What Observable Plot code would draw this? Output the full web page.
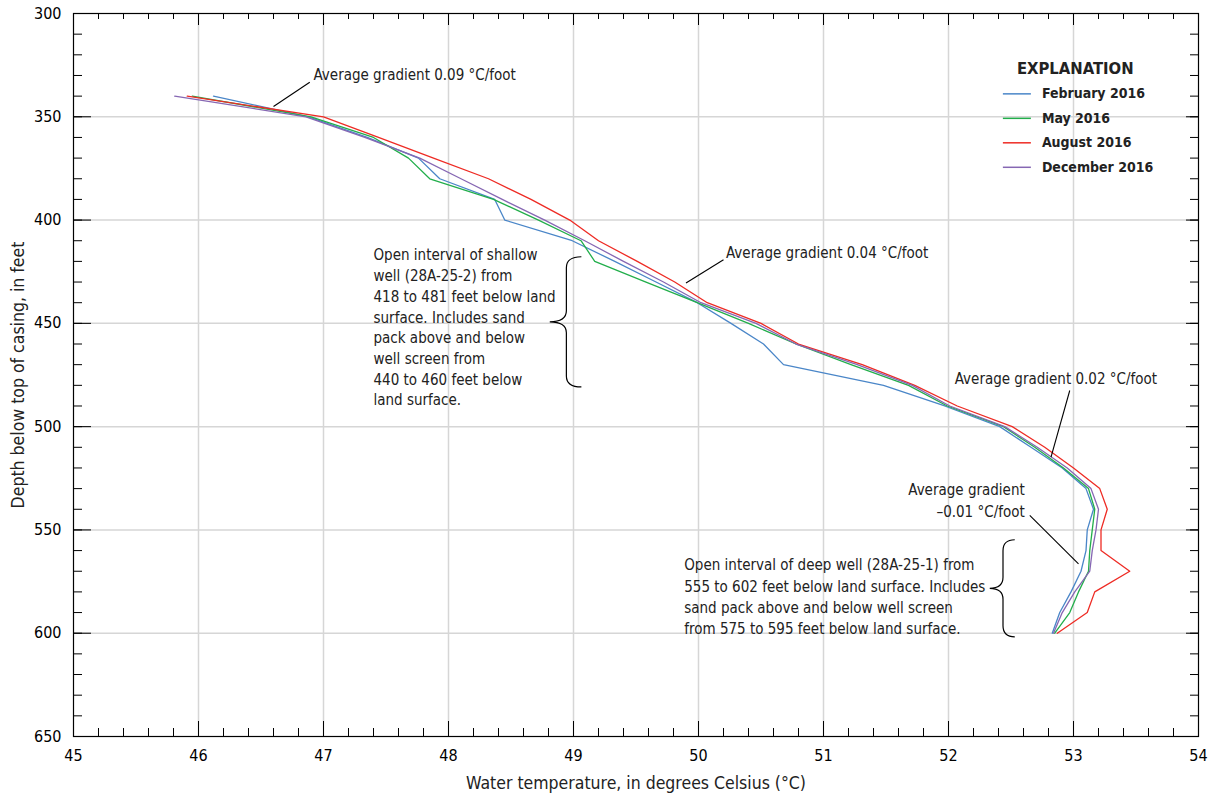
<!DOCTYPE html>
<html>
<head>
<meta charset="utf-8">
<script src="https://cdn.jsdelivr.net/npm/d3@7"></script>
<script src="https://cdn.jsdelivr.net/npm/@observablehq/plot@0.6"></script>
<style>
  html, body { margin: 0; padding: 0; background: #fff; overflow: hidden; }
</style>
</head>
<body>
<div id="chart"></div>
<script>
// ---------- Data ----------
const depths = [340, 350, 360, 370, 380, 390, 400, 410, 420, 430, 440, 450, 460, 470, 480,
                490, 500, 510, 520, 530, 540, 550, 560, 570, 580, 590, 600];

const february2016 = [46.12, 46.88, 47.35, 47.76, 47.93, 48.37, 48.45, 48.99, 49.33, 49.66, 49.99, 50.26, 50.52, 50.68, 51.48,
                      51.97, 52.41, 52.66, 52.91, 53.10, 53.16, 53.11, 53.10, 53.06, 52.98, 52.89, 52.83];
const may2016      = [45.95, 46.90, 47.40, 47.68, 47.85, 48.36, 48.72, 49.06, 49.17, 49.58, 49.99, 50.40, 50.78, 51.22, 51.68,
                      51.99, 52.44, 52.69, 52.92, 53.12, 53.17, 53.15, 53.13, 53.12, 53.04, 52.97, 52.85];
const august2016   = [45.91, 47.00, 47.44, 47.88, 48.32, 48.66, 48.97, 49.20, 49.51, 49.81, 50.07, 50.50, 50.80, 51.31, 51.73,
                      52.07, 52.51, 52.77, 53.00, 53.21, 53.27, 53.22, 53.22, 53.45, 53.17, 53.11, 52.87];
const december2016 = [45.81, 46.86, 47.33, 47.77, 48.10, 48.43, 48.77, 49.09, 49.40, 49.72, 50.02, 50.46, 50.78, 51.27, 51.71,
                      52.01, 52.45, 52.71, 52.95, 53.14, 53.20, 53.18, 53.15, 53.13, 53.01, 52.91, 52.84];

const seriesNames  = ["February 2016", "May 2016", "August 2016", "December 2016"];
const seriesValues = [february2016, may2016, august2016, december2016];
const seriesColors = ["#4a86c8", "#22ae4b", "#ee2b24", "#8667b3"];

const xTickValues = [45, 46, 47, 48, 49, 50, 51, 52, 53, 54];
const yTickValues = [300, 350, 400, 450, 500, 550, 600, 650];

const xTitle = "Water temperature, in degrees Celsius (°C)";
const yTitle = "Depth below top of casing, in feet";

// annotations (placed in data units)
const gradientLabels = [
  {text: "Average gradient 0.09 °C/foot", temp: 46.92, depth: 330.0, anchor: "start"},
  {text: "Average gradient 0.04 °C/foot", temp: 50.22, depth: 416.0, anchor: "start"},
  {text: "Average gradient 0.02 °C/foot", temp: 52.05, depth: 476.8, anchor: "start"},
  {text: "Average gradient\n–0.01 °C/foot", temp: 52.61, depth: 534.8, anchor: "end"}
];
const leaderLines = [
  {t1: 46.89, d1: 333.3, t2: 46.60, d2: 345.0},
  {t1: 50.20, d1: 419.2, t2: 49.90, d2: 430.5},
  {t1: 52.97, d1: 482.5, t2: 52.82, d2: 514.8},
  {t1: 52.65, d1: 543.0, t2: 53.04, d2: 566.4}
];
const shallowNote = ["Open interval of shallow", "well (28A-25-2) from", "418 to 481 feet below land",
  "surface. Includes sand", "pack above and below", "well screen from", "440 to 460 feet below", "land surface."];
const deepNote = ["Open interval of deep well (28A-25-1) from", "555 to 602 feet below land surface. Includes",
  "sand pack above and below well screen", "from 575 to 595 feet below land surface."];
const notes = [
  {text: shallowNote.join("\n"), temp: 47.40, depth: 451.4},
  {text: deepNote.join("\n"), temp: 49.886, depth: 581.7}
];
const braces = [
  {top: 418, bottom: 481, tip: 48.814, spine: 48.947, end: 49.067},
  {top: 555, bottom: 602, tip: 52.334, spine: 52.440, end: 52.534}
];

// ---------- Build ----------
const W = 1208, H = 797, mL = 73, mR = 10, mT = 13, mB = 61;
const innerW = W - mL - mR, innerH = H - mT - mB;
const FONT = "'Liberation Sans Narrow', 'Arial Narrow', 'DejaVu Sans Condensed', 'Roboto Condensed', sans-serif";

const tidy = seriesNames.flatMap((name, i) =>
  depths.map((d, j) => ({series: name, depth: d, temp: seriesValues[i][j]})));

const xMinor = d3.range(45, 54.0001, 0.2).map(v => +v.toFixed(1));
const yMinor = d3.range(300, 651, 10);

const legendRows = seriesNames.map((name, i) => ({name, depth: 338.9 + i * 11.85}));

function braceMark(index, scales) {
  const g = d3.create("svg:g");
  for (const b of braces) {
    const xs = scales.x(b.spine), xt = scales.x(b.tip), xe = scales.x(b.end);
    const y0 = scales.y(b.top), y1 = scales.y(b.bottom), ym = (y0 + y1) / 2;
    const r = 11;
    const p = `M${xe},${y0}Q${xs},${y0} ${xs},${y0 + r}L${xs},${ym - r}Q${xs},${ym} ${xt},${ym}` +
              `Q${xs},${ym} ${xs},${ym + r}L${xs},${y1 - r}Q${xs},${y1} ${xe},${y1}`;
    g.append("path").attr("d", p).attr("fill", "none").attr("stroke", "black").attr("stroke-width", 1.2);
  }
  return g.node();
}

const chart = Plot.plot({
  width: W, height: H,
  marginLeft: mL, marginRight: mR, marginTop: mT, marginBottom: mB,
  style: {fontFamily: FONT, fontSize: "16px", color: "black", background: "white"},
  x: {domain: [45, 54], ticks: xTickValues, tickSize: 0, tickPadding: 13, tickFormat: d => String(d), label: null},
  y: {domain: [300, 650], reverse: true, ticks: yTickValues, tickSize: 0, tickPadding: 12, tickFormat: d => String(d), label: null},
  color: {domain: seriesNames, range: seriesColors},
  marks: [
    // grid
    Plot.ruleX(xTickValues.slice(1, -1), {stroke: "#d6d6d6", strokeWidth: 1.5}),
    Plot.ruleY(yTickValues.slice(1, -1), {stroke: "#d6d6d6", strokeWidth: 1.5}),
    // inward ticks
    Plot.ruleX(xMinor, {stroke: "black", insetTop: innerH - 8}),
    Plot.ruleX(xTickValues, {stroke: "black", insetTop: innerH - 15}),
    Plot.ruleX(xMinor, {stroke: "black", insetBottom: innerH - 6}),
    Plot.ruleX(xTickValues, {stroke: "black", insetBottom: innerH - 12}),
    Plot.ruleY(yMinor, {stroke: "black", insetRight: innerW - 9}),
    Plot.ruleY(yTickValues, {stroke: "black", insetRight: innerW - 18}),
    Plot.ruleY(yMinor, {stroke: "black", insetLeft: innerW - 8}),
    Plot.ruleY(yTickValues, {stroke: "black", insetLeft: innerW - 12}),
    // series
    Plot.line(tidy, {x: "temp", y: "depth", z: "series", stroke: "series", strokeWidth: 1.3}),
    Plot.frame({stroke: "black", strokeWidth: 1.2}),
    // annotations
    Plot.link(leaderLines, {x1: "t1", y1: "d1", x2: "t2", y2: "d2", stroke: "black", strokeWidth: 1.1}),
    Plot.text(gradientLabels.filter(d => d.anchor === "start"), {x: "temp", y: "depth", text: "text", textAnchor: "start", fontSize: 15, fill: "#222"}),
    Plot.text(gradientLabels.filter(d => d.anchor === "end"), {x: "temp", y: "depth", text: "text", textAnchor: "end", fontSize: 15, lineHeight: 1.467, fill: "#222"}),
    Plot.text(notes.slice(0, 1), {x: "temp", y: "depth", text: "text", textAnchor: "start", fontSize: 15, lineHeight: 1.38, fill: "#222"}),
    Plot.text(notes.slice(1), {x: "temp", y: "depth", text: "text", textAnchor: "start", fontSize: 15, lineHeight: 1.42, fill: "#222"}),
    braceMark,
    // legend
    Plot.text(["EXPLANATION"], {x: () => 53.014, y: () => 326.8, fontWeight: "bold", fontSize: 16.5, fill: "#222"}),
    Plot.link(legendRows, {x1: () => 52.435, x2: () => 52.659, y1: "depth", y2: "depth", stroke: "name", strokeWidth: 1.5}),
    Plot.text(legendRows, {x: () => 52.747, y: "depth", text: "name", textAnchor: "start", fontWeight: "bold", fontSize: 14, fill: "#222"}),
    // axis titles
    Plot.text([xTitle], {frameAnchor: "bottom", dy: 47, fontSize: 17.5, textAnchor: "middle", lineAnchor: "middle", fill: "#222"}),
    Plot.text([yTitle], {frameAnchor: "left", dx: -55, rotate: -90, fontSize: 17.5, textAnchor: "middle", lineAnchor: "middle", fill: "#222"})
  ]
});
document.getElementById("chart").append(chart);
</script>
</body>
</html>
